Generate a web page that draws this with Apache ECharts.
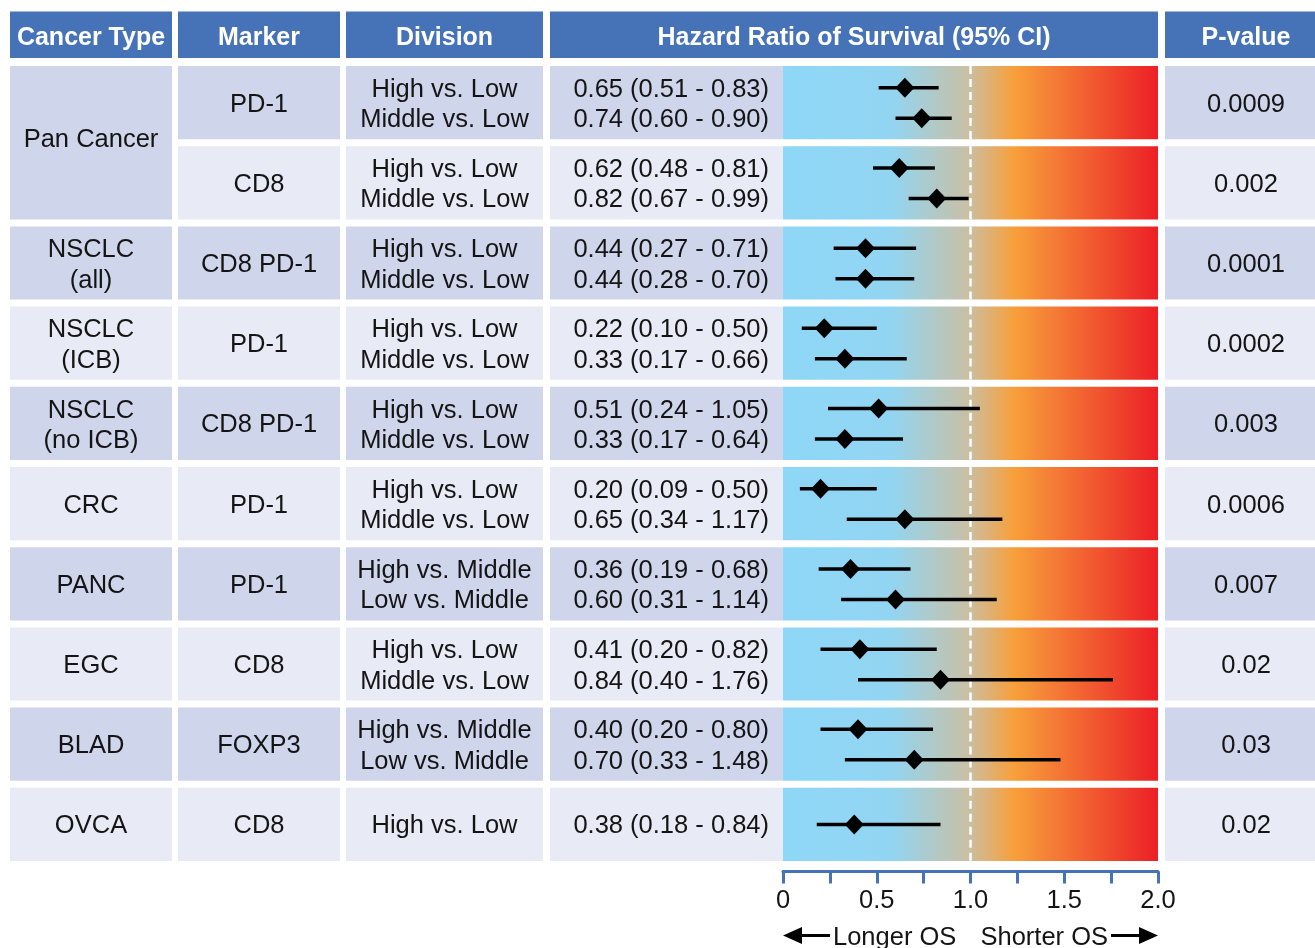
<!DOCTYPE html>
<html>
<head>
    <meta charset="utf-8">
    <title>Hazard Ratio of Survival</title>
    <script src="https://cdn.jsdelivr.net/npm/echarts@6/dist/echarts.min.js"></script>
    <style>
        html, body { margin: 0; padding: 0; background: #fff; }
        #main { width: 1315px; height: 948px; }
    </style>
</head>
<body>
<div id="main"></div>
<script type="text/javascript">
    // ---- data ----
    var headers = ['Cancer Type', 'Marker', 'Division', 'Hazard Ratio of Survival (95% CI)', 'P-value'];
    var cancerTypes = ['Pan Cancer', 'NSCLC\n(all)', 'NSCLC\n(ICB)', 'NSCLC\n(no ICB)', 'CRC', 'PANC', 'EGC', 'BLAD', 'OVCA'];
    var cancerRowSpan = [2, 1, 1, 1, 1, 1, 1, 1, 1];
    var markers = ['PD-1', 'CD8', 'CD8 PD-1', 'PD-1', 'CD8 PD-1', 'PD-1', 'PD-1', 'CD8', 'FOXP3', 'CD8'];
    var divisions = [
        ['High vs. Low', 'Middle vs. Low'],
        ['High vs. Low', 'Middle vs. Low'],
        ['High vs. Low', 'Middle vs. Low'],
        ['High vs. Low', 'Middle vs. Low'],
        ['High vs. Low', 'Middle vs. Low'],
        ['High vs. Low', 'Middle vs. Low'],
        ['High vs. Middle', 'Low vs. Middle'],
        ['High vs. Low', 'Middle vs. Low'],
        ['High vs. Middle', 'Low vs. Middle'],
        ['High vs. Low']
    ];
    var hrEstimate = [[0.65, 0.74], [0.62, 0.82], [0.44, 0.44], [0.22, 0.33], [0.51, 0.33],
        [0.20, 0.65], [0.36, 0.60], [0.41, 0.84], [0.40, 0.70], [0.38]];
    var hrLower = [[0.51, 0.60], [0.48, 0.67], [0.27, 0.28], [0.10, 0.17], [0.24, 0.17],
        [0.09, 0.34], [0.19, 0.31], [0.20, 0.40], [0.20, 0.33], [0.18]];
    var hrUpper = [[0.83, 0.90], [0.81, 0.99], [0.71, 0.70], [0.50, 0.66], [1.05, 0.64],
        [0.50, 1.17], [0.68, 1.14], [0.82, 1.76], [0.80, 1.48], [0.84]];
    var pValues = ['0.0009', '0.002', '0.0001', '0.0002', '0.003', '0.0006', '0.007', '0.02', '0.03', '0.02'];
    var axisLabels = [0, 0.5, 1.0, 1.5, 2.0];
    var directionLabels = ['Longer OS', 'Shorter OS'];

    // ---- layout / style ----
    var FONT = '"Liberation Sans", Arial, Helvetica, sans-serif';
    var FS = 25.5;
    var HEAD_BLUE = '#4672b8';
    var SHADE = ['#cfd5ea', '#e8ebf5'];
    var TEXT = '#141414';
    var COLS = {
        cancer: [10, 172], marker: [178, 340], division: [346, 543],
        hrText: [550, 783], plot: [783, 1158], pvalue: [1165, 1327]
    };
    var HEADER_TOP = -0.68;   // header band lies above row 0 on the row axis
    var GAP = 3.5;            // half of the white gap round every cell
    var TEXT_SHIFT = 2;       // nudge text down to the optical centre
    var nRows = markers.length;

    function fmt(v) { return v.toFixed(2); }
    function lineY(row, n, k) {
        if (n === 1) return row + 0.5;
        return row + (k === 0 ? 0.315 : 0.695);
    }

    // ---- table cells ----
    var cells = [];
    var headerCols = [COLS.cancer, COLS.marker, COLS.division, [COLS.hrText[0], COLS.plot[1]], COLS.pvalue];
    headers.forEach(function (h, i) {
        cells.push({x0: headerCols[i][0], x1: headerCols[i][1], y0: HEADER_TOP, y1: 0,
            fill: HEAD_BLUE, header: true, lines: [{text: h, y: HEADER_TOP / 2 + 0.01}], align: 'center'});
    });
    var r = 0;
    cancerTypes.forEach(function (c, i) {
        var parts = c.split('\n');
        var lines = parts.map(function (t, k) {
            return {text: t, y: parts.length === 1 ? r + cancerRowSpan[i] / 2 - (cancerRowSpan[i] > 1 ? 0.06 : 0) : lineY(r, 2, k)};
        });
        cells.push({x0: COLS.cancer[0], x1: COLS.cancer[1], y0: r, y1: r + cancerRowSpan[i],
            fill: SHADE[r % 2], lines: lines, align: 'center'});
        r += cancerRowSpan[i];
    });
    for (var i = 0; i < nRows; i++) {
        cells.push({x0: COLS.marker[0], x1: COLS.marker[1], y0: i, y1: i + 1, fill: SHADE[i % 2],
            lines: [{text: markers[i], y: i + 0.5}], align: 'center'});
        cells.push({x0: COLS.division[0], x1: COLS.division[1], y0: i, y1: i + 1, fill: SHADE[i % 2],
            lines: divisions[i].map(function (t, k) { return {text: t, y: lineY(i, divisions[i].length, k)}; }),
            align: 'center'});
        cells.push({x0: COLS.hrText[0], x1: COLS.hrText[1], y0: i, y1: i + 1, fill: SHADE[i % 2],
            lines: hrEstimate[i].map(function (v, k) {
                return {text: fmt(v) + ' (' + fmt(hrLower[i][k]) + ' - ' + fmt(hrUpper[i][k]) + ')',
                    y: lineY(i, hrEstimate[i].length, k)};
            }), align: 'right'});
        cells.push({x0: COLS.pvalue[0], x1: COLS.pvalue[1], y0: i, y1: i + 1, fill: SHADE[i % 2],
            lines: [{text: pValues[i], y: i + 0.5}], align: 'center'});
    }

    // ---- forest points ----
    var points = [];
    for (var j = 0; j < nRows; j++) {
        hrEstimate[j].forEach(function (v, k) {
            points.push([v, lineY(j, hrEstimate[j].length, k), hrLower[j][k], hrUpper[j][k]]);
        });
    }
    var bands = [];
    for (var b = 0; b < nRows; b++) bands.push([0, b]);

    var myChart = echarts.init(document.getElementById('main'), null, {renderer: 'canvas'});

    var yCommon = {type: 'value', min: HEADER_TOP, max: nRows, inverse: true, show: false};

    var option = {
        animation: false,
        backgroundColor: '#fff',
        textStyle: {fontFamily: FONT},
        grid: [
            {left: 0, width: 1315, top: 7.96, bottom: 83.5},
            {left: COLS.plot[0], width: COLS.plot[1] - COLS.plot[0], top: 7.96, bottom: 83.5}
        ],
        xAxis: [
            {gridIndex: 0, type: 'value', min: 0, max: 1315, show: false},
            {
                gridIndex: 1, type: 'value', min: 0, max: 2, interval: 0.25,
                position: 'bottom', offset: 7,
                axisLine: {show: true, onZero: false, lineStyle: {color: HEAD_BLUE, width: 3}},
                axisTick: {show: true, length: 12, lineStyle: {color: HEAD_BLUE, width: 3}},
                axisLabel: {
                    fontSize: FS, color: TEXT, fontFamily: FONT, margin: 16,
                    formatter: function (v) {
                        if (axisLabels.indexOf(v) < 0) return '';
                        return v === 0 ? '0' : v.toFixed(1);
                    }
                },
                splitLine: {show: false}
            }
        ],
        yAxis: [
            echarts.util.extend({gridIndex: 0}, yCommon),
            echarts.util.extend({gridIndex: 1}, yCommon)
        ],
        series: [
            {
                // table cells
                type: 'custom',
                xAxisIndex: 0, yAxisIndex: 0,
                data: cells.map(function (c) { return [c.x0, c.y0]; }),
                renderItem: function (params, api) {
                    var c = cells[params.dataIndex];
                    var p0 = api.coord([c.x0, c.y0]);
                    var p1 = api.coord([c.x1, c.y1]);
                    var top = p0[1] + GAP, bottom = p1[1] - GAP;
                    if (c.header) { bottom = p1[1] - 4.5; }
                    var children = [{
                        type: 'rect',
                        shape: {x: p0[0], y: top, width: p1[0] - p0[0], height: bottom - top},
                        style: {fill: c.fill}
                    }];
                    c.lines.forEach(function (ln) {
                        var ty = api.coord([0, ln.y])[1] + TEXT_SHIFT;
                        var tx = c.align === 'right' ? p1[0] - 14 : (p0[0] + p1[0]) / 2;
                        children.push({
                            type: 'text',
                            style: {
                                text: ln.text, x: tx, y: ty,
                                align: c.align, verticalAlign: 'middle',
                                fill: c.header ? '#fff' : TEXT,
                                fontSize: c.header ? 25 : FS, fontFamily: FONT,
                                fontWeight: c.header ? 'bold' : 'normal'
                            }
                        });
                    });
                    return {type: 'group', children: children};
                },
                z: 1
            },
            {
                // gradient band per row + reference line at HR = 1
                type: 'custom',
                xAxisIndex: 1, yAxisIndex: 1,
                data: bands,
                renderItem: function (params, api) {
                    var row = api.value(1);
                    var p0 = api.coord([0, row]);
                    var p1 = api.coord([2, row + 1]);
                    var x1 = api.coord([1, row])[0];
                    var top = p0[1] + GAP, bottom = p1[1] - GAP;
                    return {
                        type: 'group',
                        children: [
                            {
                                type: 'rect',
                                shape: {x: p0[0], y: top, width: p1[0] - p0[0], height: bottom - top},
                                style: {
                                    fill: new echarts.graphic.LinearGradient(0, 0, 1, 0, [
                                        {offset: 0, color: '#8fd7f7'},
                                        {offset: 0.29, color: '#92d5f2'},
                                        {offset: 0.49, color: '#c8c0a6'},
                                        {offset: 0.615, color: '#f7a03b'},
                                        {offset: 1, color: '#ec1f26'}
                                    ])
                                }
                            },
                            {
                                type: 'line',
                                shape: {x1: x1, y1: top, x2: x1, y2: bottom},
                                style: {stroke: '#fff', lineWidth: 2.5, lineDash: [8, 5]}
                            }
                        ]
                    };
                },
                z: 2
            },
            {
                // hazard ratio with 95% CI
                type: 'custom',
                xAxisIndex: 1, yAxisIndex: 1,
                data: points,
                renderItem: function (params, api) {
                    var y = api.value(1);
                    var c = api.coord([api.value(0), y]);
                    var lo = api.coord([api.value(2), y]);
                    var hi = api.coord([api.value(3), y]);
                    return {
                        type: 'group',
                        children: [
                            {
                                type: 'line',
                                shape: {x1: lo[0], y1: lo[1], x2: hi[0], y2: hi[1]},
                                style: {stroke: '#000', lineWidth: 3.5}
                            },
                            {
                                type: 'polygon',
                                shape: {points: [[c[0], c[1] - 10], [c[0] + 9.5, c[1]], [c[0], c[1] + 10], [c[0] - 9.5, c[1]]]},
                                style: {fill: '#000'}
                            }
                        ]
                    };
                },
                z: 3
            },
            {
                // direction arrows under the axis
                type: 'custom',
                xAxisIndex: 1, yAxisIndex: 1,
                data: [[0, nRows]],
                renderItem: function (params, api) {
                    var a = api.coord([0, nRows]);
                    var e = api.coord([2, nRows]);
                    var y = a[1] + 71;
                    return {
                        type: 'group',
                        children: [
                            {type: 'polygon', shape: {points: [[a[0], y], [a[0] + 19, y - 8.5], [a[0] + 19, y + 8.5]]}, style: {fill: '#000'}},
                            {type: 'line', shape: {x1: a[0] + 15, y1: y, x2: a[0] + 47, y2: y}, style: {stroke: '#000', lineWidth: 3}},
                            {type: 'text', style: {text: directionLabels[0], x: a[0] + 50, y: y + TEXT_SHIFT, align: 'left', verticalAlign: 'middle', fill: TEXT, fontSize: FS, fontFamily: FONT}},
                            {type: 'text', style: {text: directionLabels[1], x: e[0] - 50, y: y + TEXT_SHIFT, align: 'right', verticalAlign: 'middle', fill: TEXT, fontSize: FS, fontFamily: FONT}},
                            {type: 'line', shape: {x1: e[0] - 47, y1: y, x2: e[0] - 15, y2: y}, style: {stroke: '#000', lineWidth: 3}},
                            {type: 'polygon', shape: {points: [[e[0], y], [e[0] - 19, y - 8.5], [e[0] - 19, y + 8.5]]}, style: {fill: '#000'}}
                        ]
                    };
                },
                z: 3
            }
        ]
    };

    myChart.setOption(option);
</script>
</body>
</html>
